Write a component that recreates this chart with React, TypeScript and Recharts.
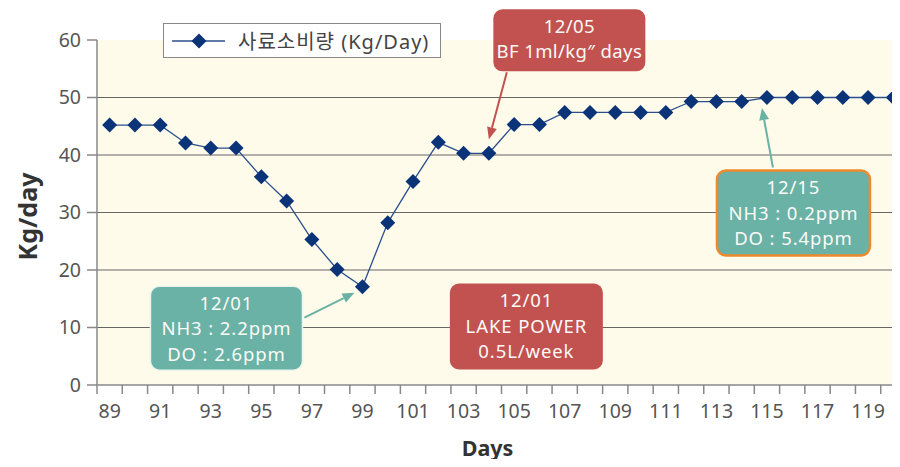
import { CartesianGrid, Legend, Line, LineChart, ReferenceDot, ReferenceLine, XAxis, YAxis } from "recharts";

const days = [89, 90, 91, 92, 93, 94, 95, 96, 97, 98, 99, 100, 101, 102, 103, 104, 105, 106, 107, 108, 109, 110, 111, 112, 113, 114, 115, 116, 117, 118, 119, 120];
const feed = [45.2, 45.2, 45.2, 42.1, 41.2, 41.2, 36.2, 32.0, 25.3, 20.1, 17.1, 28.2, 35.4, 42.2, 40.3, 40.3, 45.3, 45.3, 47.4, 47.4, 47.4, 47.4, 47.4, 49.3, 49.3, 49.3, 50.0, 50.0, 50.0, 50.0, 50.0, 50.0];
const dayLabels = [89, 91, 93, 95, 97, 99, 101, 103, 105, 107, 109, 111, 113, 115, 117, 119];
const yTicks = [0, 10, 20, 30, 40, 50, 60];
const gridValues = [10, 20, 30, 40, 50];

const noteBF = ["12/05", "BF 1ml/kg\u2033 days"];
const noteLate = ["12/15", "NH3 : 0.2ppm", "DO : 5.4ppm"];
const noteLow = ["12/01", "NH3 : 2.2ppm", "DO : 2.6ppm"];
const noteLake = ["12/01", "LAKE POWER", "0.5L/week"];

const seriesName = "사료소비량 (Kg/Day)";
const FONT = '"Noto Sans", "Noto Sans CJK KR", sans-serif';
const RED = "#C25250";
const TEAL = "#6AB2A6";

const data = days.map((day, i) => ({ day, feed: feed[i] }));
// tick marks sit on band edges, labels on odd days
const xTicks = [days[0] - 0.5, ...days.flatMap((d) => [d, d + 0.5])];

function DayTick({ x, y, payload }: any) {
  const v = payload.value;
  if (v % 1 !== 0) {
    return <line x1={x} y1={y} x2={x} y2={y + 9} stroke="#888" strokeWidth={1.5} />;
  }
  if (!dayLabels.includes(v)) return null;
  return (
    <text x={x} y={y + 33} textAnchor="middle" fill="#555" fontSize={19.5} fontFamily={FONT}>
      {v}
    </text>
  );
}

function Diamond({ cx, cy }: any) {
  if (cx == null || cy == null) return null;
  return <polygon points={`${cx},${cy - 7.5} ${cx + 7.5},${cy} ${cx},${cy + 7.5} ${cx - 7.5},${cy}`} fill="#0B3377" />;
}

function Arrow({ x1, y1, x2, y2, color }: any) {
  const len = Math.hypot(x2 - x1, y2 - y1);
  const ux = (x2 - x1) / len;
  const uy = (y2 - y1) / len;
  const bx = x2 - ux * 12;
  const by = y2 - uy * 12;
  return (
    <g>
      <line x1={x1} y1={y1} x2={bx} y2={by} stroke={color} strokeWidth={2} />
      <polygon
        points={`${x2},${y2} ${bx - uy * 5},${by + ux * 5} ${bx + uy * 5},${by - ux * 5}`}
        fill={color}
      />
    </g>
  );
}

function NoteBox({ x, y, w, h, lines, fill, border, borderWidth, spacing = 0.9 }: any) {
  return (
    <g>
      <rect x={x} y={y} width={w} height={h} rx={9} fill={fill} stroke={border ?? "none"} strokeWidth={borderWidth ?? 0} />
      {lines.map((t: string, i: number) => (
        <text key={i} x={x + w / 2} y={y + 23.5 + i * 25.5} textAnchor="middle" fill="#FBFBF6" fontSize={18.5} letterSpacing={spacing} fontFamily={FONT}>
          {t}
        </text>
      ))}
    </g>
  );
}

function LegendBox() {
  return (
    <div
      style={{
        display: "flex",
        alignItems: "center",
        width: 276,
        height: 33,
        border: "1.5px solid #888",
        background: "#fff",
        fontFamily: FONT,
        fontSize: 20,
        letterSpacing: 1,
        color: "#444",
        whiteSpace: "nowrap",
      }}
    >
      <svg width={66} height={20} style={{ marginLeft: 8 }}>
        <line x1={0} y1={10} x2={53} y2={10} stroke="#2B4F8E" strokeWidth={1.5} />
        <polygon points="27,2.5 34.5,10 27,17.5 19.5,10" fill="#0B3377" />
      </svg>
      <span>{seriesName}</span>
    </div>
  );
}

export default function App() {
  return (
    <div style={{ margin: -8, width: 900, height: 467, overflow: "hidden", position: "relative", background: "#fff" }}>
      <LineChart width={906} height={467} data={data} margin={{ top: 40, right: 0, bottom: 12, left: 0 }}>
        <CartesianGrid fill="#FEFBEA" horizontal={false} vertical={false} />
        {gridValues.map((v) => (
          <ReferenceLine key={v} y={v} stroke="#666" strokeWidth={1.2} />
        ))}
        <XAxis
          dataKey="day"
          type="number"
          domain={[88.5, 120.5]}
          ticks={xTicks}
          interval={0}
          tickLine={false}
          tickSize={0}
          tickMargin={0}
          height={70}
          axisLine={{ stroke: "#888", strokeWidth: 1.5 }}
          tick={<DayTick />}
          label={{
            content: ({ viewBox }: any) => (
              <text x={viewBox.x + viewBox.width / 2 - 14} y={viewBox.y + 71} textAnchor="middle" fill="#333" fontSize={21.5} fontWeight="bold" fontFamily={FONT}>
                Days
              </text>
            ),
          }}
        />
        <YAxis
          domain={[0, 60]}
          ticks={yTicks}
          width={97}
          tickSize={10}
          tickMargin={6}
          axisLine={{ stroke: "#888", strokeWidth: 1.5 }}
          tickLine={{ stroke: "#888", strokeWidth: 1.5 }}
          tick={{ fill: "#555", fontSize: 19.5, fontFamily: FONT }}
          label={{
            content: ({ viewBox }: any) => {
              const cx = viewBox.x + 27;
              const cy = viewBox.y + viewBox.height / 2 + 4;
              return (
                <text x={cx} y={cy} transform={`rotate(-90 ${cx} ${cy})`} textAnchor="middle" dominantBaseline="central" fill="#333" fontSize={25} fontWeight="bold" fontFamily={FONT}>
                  Kg/day
                </text>
              );
            },
          }}
        />
        <Legend verticalAlign="middle" layout="horizontal" align="center" content={<LegendBox />} wrapperStyle={{ position: "absolute", left: 163, top: 23, width: "auto" }} />
        <Line dataKey="feed" name={seriesName} stroke="#2B4F8E" strokeWidth={1.3} dot={<Diamond />} activeDot={false} isAnimationActive={false} />
        <ReferenceDot
          x={104}
          y={40.3}
          ifOverflow="visible"
          shape={({ cx, cy }: any) => (
            <g>
              <NoteBox x={cx + 4.5} y={cy - 144} w={152} h={62} lines={noteBF} fill={RED} spacing={0.4} />
              <Arrow x1={cx + 18} y1={cy - 81} x2={cx} y2={cy - 14} color={RED} />
            </g>
          )}
        />
        <ReferenceDot
          x={115}
          y={50}
          ifOverflow="visible"
          shape={({ cx, cy }: any) => (
            <g>
              <Arrow x1={cx + 6} y1={cy + 70} x2={cx - 5} y2={cy + 10.5} color={TEAL} />
              <NoteBox x={cx - 50} y={cy + 73} w={153} h={85} lines={noteLate} fill={TEAL} border="#EE8A2E" borderWidth={2.5} />
            </g>
          )}
        />
        <ReferenceDot
          x={99}
          y={17.1}
          ifOverflow="visible"
          shape={({ cx, cy }: any) => (
            <g>
              <Arrow x1={cx - 58} y1={cy + 31} x2={cx - 8} y2={cy + 6} color={TEAL} />
              <NoteBox x={cx - 212} y={cy - 0.5} w={152} h={84} lines={noteLow} fill={TEAL} border="#EAF4EC" borderWidth={1.5} />
            </g>
          )}
        />
        <ReferenceDot
          x={104}
          y={10}
          ifOverflow="visible"
          shape={({ cx, cy }: any) => <NoteBox x={cx - 39} y={cy - 44} w={153} h={86} lines={noteLake} fill={RED} />}
        />
      </LineChart>
    </div>
  );
}
